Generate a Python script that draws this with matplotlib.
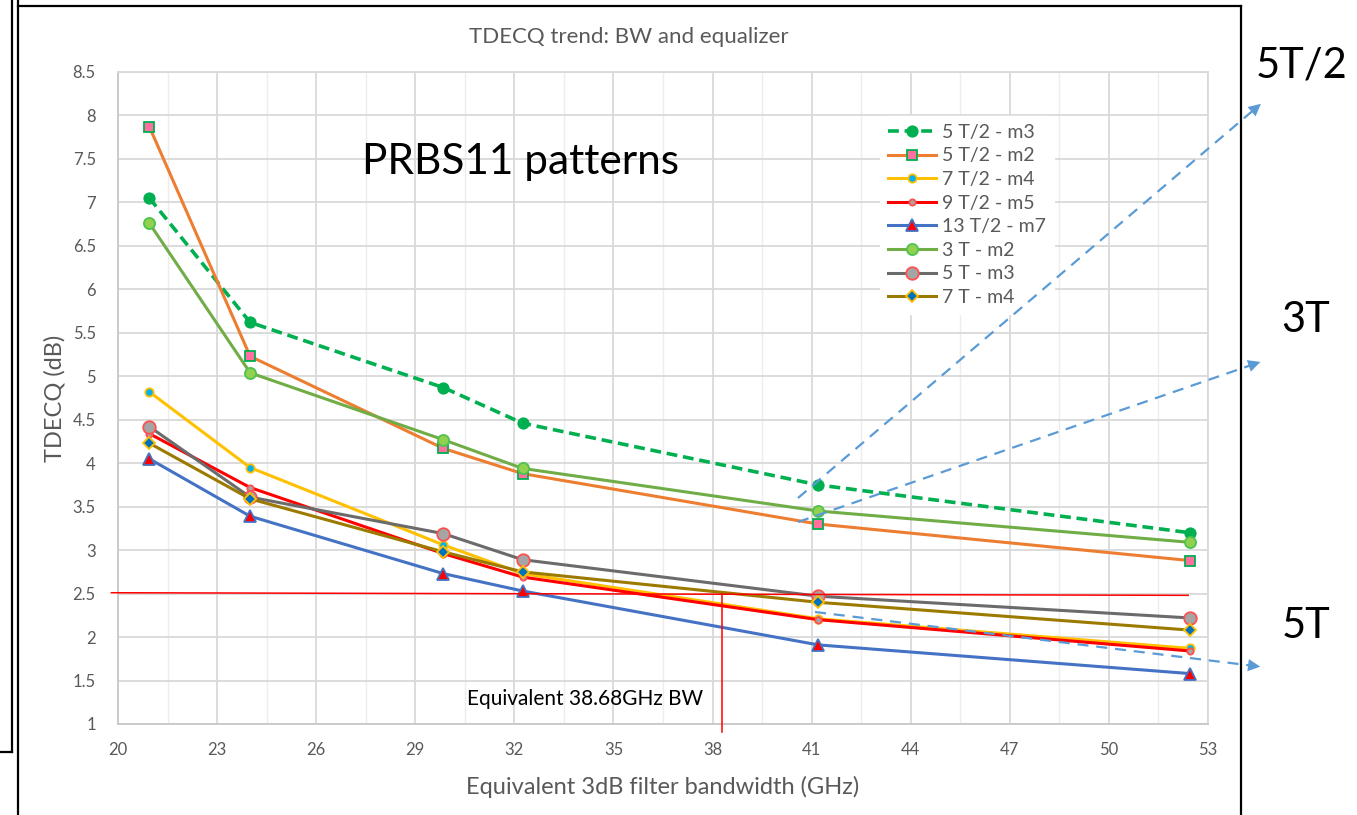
import matplotlib
matplotlib.use('Agg')
import matplotlib.pyplot as plt
from matplotlib.lines import Line2D
import numpy as np

plt.rcParams['font.family'] = ['Lato', 'DejaVu Sans']

# data
bw = [20.95, 24.0, 29.85, 32.25, 41.2, 52.45]
labels = ['5 T/2 - m3', '5 T/2 - m2', '7 T/2 - m4', '9 T/2 - m5',
          '13 T/2 - m7', '3 T - m2', '5 T - m3', '7 T - m4']
t52_m3 = [7.05, 5.62, 4.87, 4.46, 3.75, 3.20]
t52_m2 = [7.87, 5.23, 4.17, 3.88, 3.30, 2.88]
t72_m4 = [4.82, 3.95, 3.06, 2.73, 2.21, 1.87]
t92_m5 = [4.34, 3.72, 2.96, 2.69, 2.20, 1.84]
t132_m7 = [4.05, 3.39, 2.73, 2.53, 1.91, 1.58]
t3_m2 = [6.76, 5.04, 4.27, 3.94, 3.45, 3.09]
t5_m3 = [4.42, 3.61, 3.19, 2.89, 2.47, 2.22]
t7_m4 = [4.23, 3.59, 2.98, 2.75, 2.40, 2.08]
series = [t52_m3, t52_m2, t72_m4, t92_m5, t132_m7, t3_m2, t5_m3, t7_m4]

x_ticks = [20, 23, 26, 29, 32, 35, 38, 41, 44, 47, 50, 53]
y_ticks = [1, 1.5, 2, 2.5, 3, 3.5, 4, 4.5, 5, 5.5, 6, 6.5, 7, 7.5, 8, 8.5]
target_tdecq = 2.5
equiv_bw = 38.3

# line / marker styles per series (line colour, ls, marker, face, edge, size)
styles = [
    ('#00B050', '--', 'o', '#00B050', '#00B050', 7.5),
    ('#ED7D31', '-', 's', '#FF6F9F', '#00B050', 7),
    ('#FFC000', '-', 'o', '#00B0F0', '#FFC000', 6),
    ('#FF0000', '-', 'o', '#A5A5A5', '#FF5050', 4.5),
    ('#4472C4', '-', '^', '#FF0000', '#4472C4', 8),
    ('#70AD47', '-', 'o', '#92D050', '#4EC34E', 8),
    ('#6B6B6B', '-', 'o', '#A5A5A5', '#FF5050', 9),
    ('#9C7A00', '-', 'D', '#0070C0', '#FFC000', 6),
]

W, H = 1357, 815
fig = plt.figure(figsize=(W / 100, H / 100), dpi=100)


def fx(px):
    return px / W


def fy(py):
    return 1 - py / H


ax = fig.add_axes([fx(118), fy(724), fx(1208) - fx(118), (724 - 72) / H])

for vals, lab, st in zip(series, labels, styles):
    lc, ls, mk, mf, me, ms = st
    ax.plot(bw, vals, color=lc, ls=ls, lw=2.2 if ls == '-' else 2.6,
            marker=mk, markerfacecolor=mf, markeredgecolor=me,
            markeredgewidth=1.3, markersize=ms, label=lab, zorder=3,
            dashes=(3, 1.6) if ls == '--' else (None, None))

ax.set_xlim(20, 53)
ax.set_ylim(1, 8.5)
ax.set_xticks(x_ticks)
ax.set_xticks(np.arange(21.5, 53, 3), minor=True)
ax.set_yticks(y_ticks)
ax.set_yticklabels(['%g' % v for v in y_ticks])
ax.tick_params(which='both', length=0, labelsize=12, colors='#595959')
ax.tick_params(axis='x', pad=13)
ax.tick_params(axis='y', pad=16)
ax.grid(which='major', color='#D9D9D9', lw=1.3, zorder=0)
ax.grid(which='minor', axis='x', color='#EDEDED', lw=1.0, zorder=0)
ax.set_axisbelow(True)
for s in ax.spines.values():
    s.set_color('#D9D9D9')
    s.set_linewidth(1.3)
ax.spines['left'].set_color('#C8C8C8')
ax.spines['bottom'].set_color('#C8C8C8')

ax.set_xlabel('Equivalent 3dB filter bandwidth (GHz)', fontsize=17,
              color='#595959', labelpad=13)
ax.set_ylabel('TDECQ (dB)', fontsize=17, color='#595959', labelpad=5)
fig.text(fx(629), fy(37), 'TDECQ trend: BW and equalizer', fontsize=16,
         color='#595959', ha='center', va='center')

ax.text(fx(520), fy(162), 'PRBS11 patterns', transform=fig.transFigure,
        fontsize=30.5, color='black', ha='center', va='center')

# reference lines
ax.plot([19.8, 52.4], [target_tdecq + 0.01, target_tdecq - 0.02],
        color='#FF0000', lw=1.1, clip_on=False, zorder=4)
ax.plot([equiv_bw, equiv_bw], [target_tdecq, 0.91], color='#FF0000',
        lw=1.1, clip_on=False, zorder=4)
ax.text(fx(585), fy(699), 'Equivalent 38.68GHz BW', transform=fig.transFigure,
        fontsize=15, color='black', ha='center', va='center')

leg = ax.legend(loc='upper left', bbox_to_anchor=((880 - 118) / 1090, (724 - 116) / 652),
                frameon=True, fontsize=14, handlelength=2.5, handletextpad=0.3,
                labelspacing=0.34, borderpad=0.4, borderaxespad=0)
leg.get_frame().set_edgecolor('white')
leg.get_frame().set_facecolor('white')
leg.get_frame().set_alpha(1)
for t in leg.get_texts():
    t.set_color('#595959')
leg.set_zorder(5)

# dashed blue pointers to the side labels
arrows = [((798, 498), (1263, 102)),
          ((798, 522), (1263, 361)),
          ((815, 612), (1263, 667))]
for (x0, y0), (x1, y1) in arrows:
    dx, dy = x1 - x0, y1 - y0
    n = np.hypot(dx, dy)
    xb, yb = x1 - dx / n * 14, y1 - dy / n * 14
    fig.add_artist(Line2D([fx(x0), fx(xb)], [fy(y0), fy(yb)], color='#5B9BD5',
                          lw=1.6, dashes=(5, 3.5)))
    fig.add_artist(matplotlib.patches.FancyArrowPatch(
        (fx(xb - dx / n * 2), fy(yb - dy / n * 2)), (fx(x1), fy(y1)),
        transform=fig.transFigure, arrowstyle='-|>', mutation_scale=22,
        color='#5B9BD5', lw=0))

side = [('5T/2', 1302, 65), ('3T', 1306, 320), ('5T', 1306, 626)]
for txt, x, y in side:
    fig.text(fx(x), fy(y), txt, fontsize=30, color='black',
             ha='center', va='center')

# outer frames of the slide
frame = [([18, 18], [0, 815]), ([18, 1241], [6, 6]), ([1241, 1241], [6, 815]),
         ([12, 12], [0, 752]), ([0, 12], [752, 752])]
for xs, ys in frame:
    fig.add_artist(Line2D([fx(v) for v in xs], [fy(v) for v in ys],
                          color='black', lw=1.6))

fig.savefig('out.png', dpi=100)
